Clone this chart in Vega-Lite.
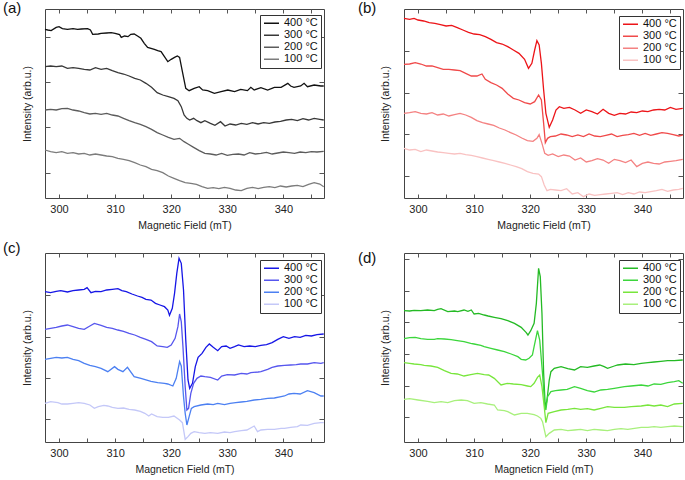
{
"$schema": "https://vega.github.io/schema/vega-lite/v6.json",
"background": "white",
"padding": {"left": 2, "top": 0, "right": 0, "bottom": 0},
"autosize": {"type": "pad"},
"data": {"values": [
{"p":"a","t":400,"x":297.5,"y":506},{"p":"a","t":400,"x":298,"y":504},{"p":"a","t":400,"x":298.6,"y":502},{"p":"a","t":400,"x":299.5,"y":512},{"p":"a","t":400,"x":300,"y":514},{"p":"a","t":400,"x":300.6,"y":508},{"p":"a","t":400,"x":301.5,"y":506},{"p":"a","t":400,"x":302.5,"y":508},{"p":"a","t":400,"x":303.3,"y":506},{"p":"a","t":400,"x":304,"y":507},{"p":"a","t":400,"x":305.1,"y":508},{"p":"a","t":400,"x":305.6,"y":504},{"p":"a","t":400,"x":306,"y":491},{"p":"a","t":400,"x":307,"y":492},{"p":"a","t":400,"x":307.5,"y":494},{"p":"a","t":400,"x":308.5,"y":495},{"p":"a","t":400,"x":309.3,"y":496},{"p":"a","t":400,"x":310,"y":494},{"p":"a","t":400,"x":310.8,"y":490},{"p":"a","t":400,"x":311.1,"y":482},{"p":"a","t":400,"x":311.7,"y":486},{"p":"a","t":400,"x":312.3,"y":484},{"p":"a","t":400,"x":312.8,"y":491},{"p":"a","t":400,"x":313.4,"y":492},{"p":"a","t":400,"x":314,"y":486},{"p":"a","t":400,"x":314.6,"y":479},{"p":"a","t":400,"x":315.2,"y":464},{"p":"a","t":400,"x":315.8,"y":452},{"p":"a","t":400,"x":316.4,"y":449},{"p":"a","t":400,"x":317,"y":446},{"p":"a","t":400,"x":317.6,"y":442},{"p":"a","t":400,"x":318.2,"y":439},{"p":"a","t":400,"x":318.8,"y":424},{"p":"a","t":400,"x":319.4,"y":409},{"p":"a","t":400,"x":320,"y":416},{"p":"a","t":400,"x":320.6,"y":422},{"p":"a","t":400,"x":321.1,"y":426},{"p":"a","t":400,"x":321.5,"y":422},{"p":"a","t":400,"x":322,"y":379},{"p":"a","t":400,"x":322.6,"y":329},{"p":"a","t":400,"x":323.2,"y":322},{"p":"a","t":400,"x":324.1,"y":329},{"p":"a","t":400,"x":325,"y":334},{"p":"a","t":400,"x":325.6,"y":324},{"p":"a","t":400,"x":326.5,"y":322},{"p":"a","t":400,"x":327.7,"y":314},{"p":"a","t":400,"x":328.9,"y":319},{"p":"a","t":400,"x":330.1,"y":324},{"p":"a","t":400,"x":331.3,"y":319},{"p":"a","t":400,"x":332.4,"y":326},{"p":"a","t":400,"x":333.6,"y":322},{"p":"a","t":400,"x":334.2,"y":332},{"p":"a","t":400,"x":334.8,"y":324},{"p":"a","t":400,"x":336,"y":331},{"p":"a","t":400,"x":337.2,"y":324},{"p":"a","t":400,"x":338.4,"y":332},{"p":"a","t":400,"x":339.6,"y":332},{"p":"a","t":400,"x":340.8,"y":344},{"p":"a","t":400,"x":341.3,"y":336},{"p":"a","t":400,"x":341.9,"y":332},{"p":"a","t":400,"x":343.1,"y":336},{"p":"a","t":400,"x":343.7,"y":344},{"p":"a","t":400,"x":344.3,"y":334},{"p":"a","t":400,"x":345.5,"y":339},{"p":"a","t":400,"x":346.7,"y":336},{"p":"a","t":400,"x":347.2,"y":336},
{"p":"a","t":300,"x":297.5,"y":394},{"p":"a","t":300,"x":298.5,"y":396},{"p":"a","t":300,"x":299.5,"y":394},{"p":"a","t":300,"x":300.5,"y":396},{"p":"a","t":300,"x":301.5,"y":389},{"p":"a","t":300,"x":302.5,"y":391},{"p":"a","t":300,"x":303.5,"y":389},{"p":"a","t":300,"x":304.5,"y":386},{"p":"a","t":300,"x":305.5,"y":384},{"p":"a","t":300,"x":306.5,"y":391},{"p":"a","t":300,"x":307.5,"y":386},{"p":"a","t":300,"x":308.5,"y":389},{"p":"a","t":300,"x":309.5,"y":382},{"p":"a","t":300,"x":310.5,"y":376},{"p":"a","t":300,"x":311.5,"y":372},{"p":"a","t":300,"x":312.5,"y":366},{"p":"a","t":300,"x":313.5,"y":359},{"p":"a","t":300,"x":314.5,"y":354},{"p":"a","t":300,"x":315.5,"y":344},{"p":"a","t":300,"x":316.5,"y":332},{"p":"a","t":300,"x":317.5,"y":316},{"p":"a","t":300,"x":318.5,"y":309},{"p":"a","t":300,"x":319.5,"y":304},{"p":"a","t":300,"x":320.5,"y":299},{"p":"a","t":300,"x":321.2,"y":292},{"p":"a","t":300,"x":321.8,"y":274},{"p":"a","t":300,"x":322.3,"y":249},{"p":"a","t":300,"x":322.8,"y":239},{"p":"a","t":300,"x":323.3,"y":234},{"p":"a","t":300,"x":324,"y":239},{"p":"a","t":300,"x":324.6,"y":232},{"p":"a","t":300,"x":325.3,"y":226},{"p":"a","t":300,"x":326,"y":232},{"p":"a","t":300,"x":327,"y":224},{"p":"a","t":300,"x":327.8,"y":218},{"p":"a","t":300,"x":328.8,"y":229},{"p":"a","t":300,"x":329.6,"y":216},{"p":"a","t":300,"x":330.5,"y":222},{"p":"a","t":300,"x":331.5,"y":219},{"p":"a","t":300,"x":332.5,"y":224},{"p":"a","t":300,"x":333.5,"y":221},{"p":"a","t":300,"x":334.5,"y":226},{"p":"a","t":300,"x":335.5,"y":222},{"p":"a","t":300,"x":336.5,"y":226},{"p":"a","t":300,"x":337.5,"y":224},{"p":"a","t":300,"x":338.5,"y":228},{"p":"a","t":300,"x":339.5,"y":230},{"p":"a","t":300,"x":340.5,"y":234},{"p":"a","t":300,"x":341.5,"y":236},{"p":"a","t":300,"x":342.5,"y":232},{"p":"a","t":300,"x":343.5,"y":238},{"p":"a","t":300,"x":344.5,"y":234},{"p":"a","t":300,"x":345.5,"y":239},{"p":"a","t":300,"x":346.5,"y":236},{"p":"a","t":300,"x":347.2,"y":234},
{"p":"a","t":200,"x":297.5,"y":264},{"p":"a","t":200,"x":298.5,"y":266},{"p":"a","t":200,"x":299.5,"y":264},{"p":"a","t":200,"x":300.5,"y":268},{"p":"a","t":200,"x":301.5,"y":269},{"p":"a","t":200,"x":302.5,"y":264},{"p":"a","t":200,"x":303.5,"y":261},{"p":"a","t":200,"x":304.5,"y":256},{"p":"a","t":200,"x":305.5,"y":252},{"p":"a","t":200,"x":306.5,"y":254},{"p":"a","t":200,"x":307.5,"y":251},{"p":"a","t":200,"x":308.5,"y":254},{"p":"a","t":200,"x":309.5,"y":249},{"p":"a","t":200,"x":310.5,"y":246},{"p":"a","t":200,"x":311.5,"y":239},{"p":"a","t":200,"x":312.5,"y":232},{"p":"a","t":200,"x":313.5,"y":226},{"p":"a","t":200,"x":314.5,"y":221},{"p":"a","t":200,"x":315.5,"y":214},{"p":"a","t":200,"x":316.5,"y":206},{"p":"a","t":200,"x":317.5,"y":196},{"p":"a","t":200,"x":318.5,"y":189},{"p":"a","t":200,"x":319.5,"y":182},{"p":"a","t":200,"x":320.5,"y":176},{"p":"a","t":200,"x":321.5,"y":179},{"p":"a","t":200,"x":322.3,"y":169},{"p":"a","t":200,"x":323,"y":162},{"p":"a","t":200,"x":324,"y":152},{"p":"a","t":200,"x":325,"y":142},{"p":"a","t":200,"x":326,"y":134},{"p":"a","t":200,"x":327,"y":132},{"p":"a","t":200,"x":328,"y":129},{"p":"a","t":200,"x":329,"y":134},{"p":"a","t":200,"x":330,"y":128},{"p":"a","t":200,"x":331,"y":131},{"p":"a","t":200,"x":332,"y":132},{"p":"a","t":200,"x":333,"y":129},{"p":"a","t":200,"x":334,"y":136},{"p":"a","t":200,"x":335,"y":132},{"p":"a","t":200,"x":336,"y":134},{"p":"a","t":200,"x":337,"y":137},{"p":"a","t":200,"x":338,"y":132},{"p":"a","t":200,"x":339,"y":135},{"p":"a","t":200,"x":340,"y":138},{"p":"a","t":200,"x":341,"y":136},{"p":"a","t":200,"x":342,"y":134},{"p":"a","t":200,"x":343,"y":138},{"p":"a","t":200,"x":344,"y":136},{"p":"a","t":200,"x":345,"y":139},{"p":"a","t":200,"x":346,"y":138},{"p":"a","t":200,"x":347.2,"y":140},
{"p":"a","t":100,"x":297.5,"y":144},{"p":"a","t":100,"x":298.5,"y":139},{"p":"a","t":100,"x":299.5,"y":136},{"p":"a","t":100,"x":300.5,"y":139},{"p":"a","t":100,"x":301.5,"y":134},{"p":"a","t":100,"x":302.5,"y":136},{"p":"a","t":100,"x":303.5,"y":132},{"p":"a","t":100,"x":304.5,"y":134},{"p":"a","t":100,"x":305.5,"y":129},{"p":"a","t":100,"x":306.5,"y":132},{"p":"a","t":100,"x":307.5,"y":129},{"p":"a","t":100,"x":308.5,"y":126},{"p":"a","t":100,"x":309.5,"y":124},{"p":"a","t":100,"x":310.5,"y":119},{"p":"a","t":100,"x":311.5,"y":116},{"p":"a","t":100,"x":312.5,"y":112},{"p":"a","t":100,"x":313.5,"y":106},{"p":"a","t":100,"x":314.5,"y":99},{"p":"a","t":100,"x":315.5,"y":94},{"p":"a","t":100,"x":316.5,"y":86},{"p":"a","t":100,"x":317.5,"y":82},{"p":"a","t":100,"x":318.5,"y":76},{"p":"a","t":100,"x":319.5,"y":66},{"p":"a","t":100,"x":320.5,"y":59},{"p":"a","t":100,"x":321.5,"y":52},{"p":"a","t":100,"x":322.5,"y":46},{"p":"a","t":100,"x":323.5,"y":44},{"p":"a","t":100,"x":324.5,"y":41},{"p":"a","t":100,"x":325.5,"y":34},{"p":"a","t":100,"x":326.5,"y":29},{"p":"a","t":100,"x":327.5,"y":31},{"p":"a","t":100,"x":328.5,"y":28},{"p":"a","t":100,"x":329.5,"y":32},{"p":"a","t":100,"x":330.5,"y":29},{"p":"a","t":100,"x":331.5,"y":24},{"p":"a","t":100,"x":332.5,"y":22},{"p":"a","t":100,"x":333.5,"y":29},{"p":"a","t":100,"x":334.5,"y":32},{"p":"a","t":100,"x":335.5,"y":28},{"p":"a","t":100,"x":336.5,"y":32},{"p":"a","t":100,"x":337.5,"y":34},{"p":"a","t":100,"x":338.5,"y":31},{"p":"a","t":100,"x":339.5,"y":36},{"p":"a","t":100,"x":340.5,"y":33},{"p":"a","t":100,"x":341.5,"y":36},{"p":"a","t":100,"x":342.5,"y":38},{"p":"a","t":100,"x":343.5,"y":34},{"p":"a","t":100,"x":344.5,"y":41},{"p":"a","t":100,"x":345.5,"y":46},{"p":"a","t":100,"x":346.5,"y":42},{"p":"a","t":100,"x":347.2,"y":34},
{"p":"b","t":400,"x":297.5,"y":539},{"p":"b","t":400,"x":298.5,"y":536},{"p":"b","t":400,"x":299.3,"y":539},{"p":"b","t":400,"x":300,"y":534},{"p":"b","t":400,"x":301,"y":531},{"p":"b","t":400,"x":302,"y":526},{"p":"b","t":400,"x":303,"y":524},{"p":"b","t":400,"x":304,"y":520},{"p":"b","t":400,"x":305,"y":516},{"p":"b","t":400,"x":306,"y":518},{"p":"b","t":400,"x":307,"y":511},{"p":"b","t":400,"x":308,"y":504},{"p":"b","t":400,"x":309,"y":497},{"p":"b","t":400,"x":310,"y":492},{"p":"b","t":400,"x":311,"y":490},{"p":"b","t":400,"x":312,"y":484},{"p":"b","t":400,"x":313,"y":476},{"p":"b","t":400,"x":314,"y":466},{"p":"b","t":400,"x":315,"y":462},{"p":"b","t":400,"x":316,"y":454},{"p":"b","t":400,"x":317,"y":444},{"p":"b","t":400,"x":318,"y":434},{"p":"b","t":400,"x":319,"y":416},{"p":"b","t":400,"x":319.7,"y":389},{"p":"b","t":400,"x":320.3,"y":404},{"p":"b","t":400,"x":320.8,"y":444},{"p":"b","t":400,"x":321.2,"y":472},{"p":"b","t":400,"x":321.6,"y":459},{"p":"b","t":400,"x":322,"y":404},{"p":"b","t":400,"x":322.4,"y":324},{"p":"b","t":400,"x":322.8,"y":254},{"p":"b","t":400,"x":323.4,"y":212},{"p":"b","t":400,"x":324,"y":234},{"p":"b","t":400,"x":324.6,"y":264},{"p":"b","t":400,"x":325.2,"y":274},{"p":"b","t":400,"x":326,"y":269},{"p":"b","t":400,"x":327,"y":272},{"p":"b","t":400,"x":328,"y":264},{"p":"b","t":400,"x":329,"y":254},{"p":"b","t":400,"x":330,"y":264},{"p":"b","t":400,"x":331,"y":259},{"p":"b","t":400,"x":332,"y":252},{"p":"b","t":400,"x":333,"y":266},{"p":"b","t":400,"x":334,"y":254},{"p":"b","t":400,"x":335,"y":248},{"p":"b","t":400,"x":336,"y":254},{"p":"b","t":400,"x":337,"y":252},{"p":"b","t":400,"x":338,"y":258},{"p":"b","t":400,"x":339,"y":256},{"p":"b","t":400,"x":340,"y":261},{"p":"b","t":400,"x":341,"y":259},{"p":"b","t":400,"x":342,"y":264},{"p":"b","t":400,"x":343,"y":266},{"p":"b","t":400,"x":344,"y":264},{"p":"b","t":400,"x":345,"y":272},{"p":"b","t":400,"x":346,"y":266},{"p":"b","t":400,"x":347.2,"y":269},
{"p":"b","t":300,"x":297.5,"y":401},{"p":"b","t":300,"x":298.5,"y":402},{"p":"b","t":300,"x":299.5,"y":406},{"p":"b","t":300,"x":300.5,"y":402},{"p":"b","t":300,"x":301.5,"y":396},{"p":"b","t":300,"x":302.5,"y":396},{"p":"b","t":300,"x":303.5,"y":391},{"p":"b","t":300,"x":304.5,"y":386},{"p":"b","t":300,"x":305.5,"y":386},{"p":"b","t":300,"x":306.5,"y":384},{"p":"b","t":300,"x":307.5,"y":382},{"p":"b","t":300,"x":308.5,"y":374},{"p":"b","t":300,"x":309.5,"y":366},{"p":"b","t":300,"x":310.5,"y":366},{"p":"b","t":300,"x":311.4,"y":372},{"p":"b","t":300,"x":312,"y":356},{"p":"b","t":300,"x":313,"y":346},{"p":"b","t":300,"x":314,"y":339},{"p":"b","t":300,"x":315,"y":329},{"p":"b","t":300,"x":316,"y":312},{"p":"b","t":300,"x":317,"y":299},{"p":"b","t":300,"x":318,"y":294},{"p":"b","t":300,"x":319,"y":286},{"p":"b","t":300,"x":320,"y":282},{"p":"b","t":300,"x":320.8,"y":289},{"p":"b","t":300,"x":321.5,"y":309},{"p":"b","t":300,"x":322,"y":294},{"p":"b","t":300,"x":322.4,"y":224},{"p":"b","t":300,"x":322.7,"y":166},{"p":"b","t":300,"x":323.1,"y":179},{"p":"b","t":300,"x":323.6,"y":184},{"p":"b","t":300,"x":324.5,"y":186},{"p":"b","t":300,"x":325.5,"y":192},{"p":"b","t":300,"x":326.5,"y":189},{"p":"b","t":300,"x":327.5,"y":184},{"p":"b","t":300,"x":328.5,"y":189},{"p":"b","t":300,"x":329.5,"y":184},{"p":"b","t":300,"x":330.5,"y":192},{"p":"b","t":300,"x":331.5,"y":186},{"p":"b","t":300,"x":332.5,"y":184},{"p":"b","t":300,"x":333.5,"y":188},{"p":"b","t":300,"x":334.5,"y":192},{"p":"b","t":300,"x":335.5,"y":184},{"p":"b","t":300,"x":336.5,"y":188},{"p":"b","t":300,"x":337.5,"y":190},{"p":"b","t":300,"x":338.5,"y":194},{"p":"b","t":300,"x":339.5,"y":188},{"p":"b","t":300,"x":340.5,"y":194},{"p":"b","t":300,"x":341.5,"y":188},{"p":"b","t":300,"x":342.5,"y":192},{"p":"b","t":300,"x":343.5,"y":196},{"p":"b","t":300,"x":344.5,"y":194},{"p":"b","t":300,"x":345.5,"y":190},{"p":"b","t":300,"x":346.5,"y":186},{"p":"b","t":300,"x":347.2,"y":189},
{"p":"b","t":200,"x":297.5,"y":254},{"p":"b","t":200,"x":298.5,"y":256},{"p":"b","t":200,"x":299.5,"y":259},{"p":"b","t":200,"x":300.5,"y":254},{"p":"b","t":200,"x":301.5,"y":252},{"p":"b","t":200,"x":302.5,"y":256},{"p":"b","t":200,"x":303.5,"y":249},{"p":"b","t":200,"x":304.5,"y":252},{"p":"b","t":200,"x":305.5,"y":246},{"p":"b","t":200,"x":306.5,"y":250},{"p":"b","t":200,"x":307.5,"y":254},{"p":"b","t":200,"x":308.5,"y":249},{"p":"b","t":200,"x":309.5,"y":242},{"p":"b","t":200,"x":310.5,"y":232},{"p":"b","t":200,"x":311.5,"y":226},{"p":"b","t":200,"x":312.5,"y":222},{"p":"b","t":200,"x":313.5,"y":218},{"p":"b","t":200,"x":314.5,"y":210},{"p":"b","t":200,"x":315.5,"y":204},{"p":"b","t":200,"x":316.5,"y":196},{"p":"b","t":200,"x":317.5,"y":189},{"p":"b","t":200,"x":318.5,"y":180},{"p":"b","t":200,"x":319.5,"y":172},{"p":"b","t":200,"x":320.5,"y":170},{"p":"b","t":200,"x":321.2,"y":179},{"p":"b","t":200,"x":321.6,"y":190},{"p":"b","t":200,"x":322.1,"y":164},{"p":"b","t":200,"x":322.6,"y":134},{"p":"b","t":200,"x":323.2,"y":128},{"p":"b","t":200,"x":324,"y":132},{"p":"b","t":200,"x":325,"y":124},{"p":"b","t":200,"x":326,"y":129},{"p":"b","t":200,"x":327,"y":126},{"p":"b","t":200,"x":328,"y":114},{"p":"b","t":200,"x":329,"y":120},{"p":"b","t":200,"x":330,"y":108},{"p":"b","t":200,"x":331,"y":112},{"p":"b","t":200,"x":332,"y":118},{"p":"b","t":200,"x":333,"y":114},{"p":"b","t":200,"x":334,"y":104},{"p":"b","t":200,"x":335,"y":116},{"p":"b","t":200,"x":336,"y":112},{"p":"b","t":200,"x":337,"y":106},{"p":"b","t":200,"x":338,"y":114},{"p":"b","t":200,"x":339,"y":94},{"p":"b","t":200,"x":340,"y":104},{"p":"b","t":200,"x":341,"y":108},{"p":"b","t":200,"x":342,"y":104},{"p":"b","t":200,"x":343,"y":102},{"p":"b","t":200,"x":344,"y":108},{"p":"b","t":200,"x":345,"y":110},{"p":"b","t":200,"x":346,"y":112},{"p":"b","t":200,"x":347.2,"y":116},
{"p":"b","t":100,"x":297.5,"y":149},{"p":"b","t":100,"x":298.5,"y":144},{"p":"b","t":100,"x":299.5,"y":146},{"p":"b","t":100,"x":300.5,"y":139},{"p":"b","t":100,"x":301.5,"y":144},{"p":"b","t":100,"x":302.5,"y":141},{"p":"b","t":100,"x":303.5,"y":138},{"p":"b","t":100,"x":304.5,"y":136},{"p":"b","t":100,"x":305.5,"y":134},{"p":"b","t":100,"x":306.5,"y":132},{"p":"b","t":100,"x":307.5,"y":134},{"p":"b","t":100,"x":308.5,"y":130},{"p":"b","t":100,"x":309.5,"y":128},{"p":"b","t":100,"x":310.5,"y":124},{"p":"b","t":100,"x":311.5,"y":120},{"p":"b","t":100,"x":312.5,"y":116},{"p":"b","t":100,"x":313.5,"y":112},{"p":"b","t":100,"x":314.5,"y":108},{"p":"b","t":100,"x":315.5,"y":104},{"p":"b","t":100,"x":316.5,"y":99},{"p":"b","t":100,"x":317.5,"y":94},{"p":"b","t":100,"x":318.5,"y":88},{"p":"b","t":100,"x":319.5,"y":79},{"p":"b","t":100,"x":320.5,"y":74},{"p":"b","t":100,"x":321.5,"y":72},{"p":"b","t":100,"x":322,"y":64},{"p":"b","t":100,"x":322.5,"y":39},{"p":"b","t":100,"x":323,"y":22},{"p":"b","t":100,"x":323.6,"y":26},{"p":"b","t":100,"x":324.5,"y":24},{"p":"b","t":100,"x":325.5,"y":22},{"p":"b","t":100,"x":326.5,"y":28},{"p":"b","t":100,"x":327.5,"y":12},{"p":"b","t":100,"x":328.5,"y":16},{"p":"b","t":100,"x":329.5,"y":4},{"p":"b","t":100,"x":330.5,"y":12},{"p":"b","t":100,"x":331.5,"y":8},{"p":"b","t":100,"x":332.5,"y":10},{"p":"b","t":100,"x":333.5,"y":12},{"p":"b","t":100,"x":334.5,"y":14},{"p":"b","t":100,"x":335.5,"y":16},{"p":"b","t":100,"x":336.5,"y":10},{"p":"b","t":100,"x":337.5,"y":16},{"p":"b","t":100,"x":338.5,"y":12},{"p":"b","t":100,"x":339.5,"y":18},{"p":"b","t":100,"x":340.5,"y":16},{"p":"b","t":100,"x":341.5,"y":19},{"p":"b","t":100,"x":342.5,"y":22},{"p":"b","t":100,"x":343.5,"y":26},{"p":"b","t":100,"x":344.5,"y":20},{"p":"b","t":100,"x":345.5,"y":24},{"p":"b","t":100,"x":346.5,"y":26},{"p":"b","t":100,"x":347.2,"y":29},
{"p":"c","t":400,"x":297.5,"y":451},{"p":"c","t":400,"x":298.5,"y":448},{"p":"c","t":400,"x":299.5,"y":452},{"p":"c","t":400,"x":300.3,"y":454},{"p":"c","t":400,"x":301.5,"y":450},{"p":"c","t":400,"x":302.5,"y":454},{"p":"c","t":400,"x":303.5,"y":456},{"p":"c","t":400,"x":304.5,"y":458},{"p":"c","t":400,"x":305,"y":463},{"p":"c","t":400,"x":305.7,"y":448},{"p":"c","t":400,"x":306.5,"y":452},{"p":"c","t":400,"x":307.5,"y":451},{"p":"c","t":400,"x":308.5,"y":456},{"p":"c","t":400,"x":309.5,"y":458},{"p":"c","t":400,"x":310.5,"y":460},{"p":"c","t":400,"x":311.2,"y":454},{"p":"c","t":400,"x":312,"y":451},{"p":"c","t":400,"x":313,"y":444},{"p":"c","t":400,"x":314,"y":438},{"p":"c","t":400,"x":314.8,"y":434},{"p":"c","t":400,"x":315.5,"y":428},{"p":"c","t":400,"x":316.4,"y":426},{"p":"c","t":400,"x":317.2,"y":416},{"p":"c","t":400,"x":318,"y":411},{"p":"c","t":400,"x":318.8,"y":406},{"p":"c","t":400,"x":319.4,"y":396},{"p":"c","t":400,"x":319.7,"y":380},{"p":"c","t":400,"x":320.2,"y":401},{"p":"c","t":400,"x":320.6,"y":446},{"p":"c","t":400,"x":321,"y":506},{"p":"c","t":400,"x":321.4,"y":551},{"p":"c","t":400,"x":321.8,"y":536},{"p":"c","t":400,"x":322.2,"y":456},{"p":"c","t":400,"x":322.6,"y":306},{"p":"c","t":400,"x":323,"y":186},{"p":"c","t":400,"x":323.3,"y":161},{"p":"c","t":400,"x":323.8,"y":176},{"p":"c","t":400,"x":324.3,"y":226},{"p":"c","t":400,"x":324.8,"y":254},{"p":"c","t":400,"x":325.5,"y":266},{"p":"c","t":400,"x":326.2,"y":284},{"p":"c","t":400,"x":326.8,"y":294},{"p":"c","t":400,"x":327.5,"y":284},{"p":"c","t":400,"x":328.3,"y":274},{"p":"c","t":400,"x":329,"y":286},{"p":"c","t":400,"x":329.8,"y":288},{"p":"c","t":400,"x":330.5,"y":281},{"p":"c","t":400,"x":331.3,"y":286},{"p":"c","t":400,"x":332,"y":291},{"p":"c","t":400,"x":333,"y":286},{"p":"c","t":400,"x":334,"y":288},{"p":"c","t":400,"x":335,"y":286},{"p":"c","t":400,"x":336,"y":290},{"p":"c","t":400,"x":337,"y":292},{"p":"c","t":400,"x":338,"y":298},{"p":"c","t":400,"x":339,"y":308},{"p":"c","t":400,"x":340,"y":316},{"p":"c","t":400,"x":341,"y":311},{"p":"c","t":400,"x":342,"y":316},{"p":"c","t":400,"x":343,"y":314},{"p":"c","t":400,"x":344,"y":320},{"p":"c","t":400,"x":345,"y":318},{"p":"c","t":400,"x":346,"y":322},{"p":"c","t":400,"x":347.2,"y":324},
{"p":"c","t":300,"x":297.5,"y":338},{"p":"c","t":300,"x":298.5,"y":341},{"p":"c","t":300,"x":299.5,"y":344},{"p":"c","t":300,"x":300.5,"y":348},{"p":"c","t":300,"x":301.5,"y":351},{"p":"c","t":300,"x":302.5,"y":346},{"p":"c","t":300,"x":303.5,"y":341},{"p":"c","t":300,"x":304.5,"y":338},{"p":"c","t":300,"x":305.5,"y":348},{"p":"c","t":300,"x":306.3,"y":356},{"p":"c","t":300,"x":307.5,"y":350},{"p":"c","t":300,"x":308.5,"y":344},{"p":"c","t":300,"x":309.5,"y":341},{"p":"c","t":300,"x":310.5,"y":336},{"p":"c","t":300,"x":311.5,"y":332},{"p":"c","t":300,"x":312.5,"y":326},{"p":"c","t":300,"x":313.5,"y":321},{"p":"c","t":300,"x":314.5,"y":314},{"p":"c","t":300,"x":315.5,"y":308},{"p":"c","t":300,"x":316.5,"y":301},{"p":"c","t":300,"x":317.5,"y":288},{"p":"c","t":300,"x":318.5,"y":286},{"p":"c","t":300,"x":319.3,"y":284},{"p":"c","t":300,"x":320,"y":291},{"p":"c","t":300,"x":320.7,"y":311},{"p":"c","t":300,"x":321.2,"y":346},{"p":"c","t":300,"x":321.5,"y":384},{"p":"c","t":300,"x":321.8,"y":361},{"p":"c","t":300,"x":322.1,"y":286},{"p":"c","t":300,"x":322.5,"y":166},{"p":"c","t":300,"x":322.8,"y":96},{"p":"c","t":300,"x":323.1,"y":101},{"p":"c","t":300,"x":323.5,"y":146},{"p":"c","t":300,"x":324,"y":176},{"p":"c","t":300,"x":324.6,"y":191},{"p":"c","t":300,"x":325.3,"y":198},{"p":"c","t":300,"x":326,"y":196},{"p":"c","t":300,"x":327,"y":194},{"p":"c","t":300,"x":328.3,"y":186},{"p":"c","t":300,"x":329,"y":198},{"p":"c","t":300,"x":330,"y":202},{"p":"c","t":300,"x":331.3,"y":201},{"p":"c","t":300,"x":332.5,"y":206},{"p":"c","t":300,"x":333.5,"y":204},{"p":"c","t":300,"x":334.2,"y":208},{"p":"c","t":300,"x":335.5,"y":210},{"p":"c","t":300,"x":336,"y":211},{"p":"c","t":300,"x":337.2,"y":218},{"p":"c","t":300,"x":338,"y":224},{"p":"c","t":300,"x":339,"y":228},{"p":"c","t":300,"x":340.2,"y":230},{"p":"c","t":300,"x":341.3,"y":231},{"p":"c","t":300,"x":342.3,"y":232},{"p":"c","t":300,"x":343.1,"y":234},{"p":"c","t":300,"x":344.3,"y":234},{"p":"c","t":300,"x":345.5,"y":238},{"p":"c","t":300,"x":346.7,"y":236},{"p":"c","t":300,"x":347.2,"y":238},
{"p":"c","t":200,"x":297.5,"y":248},{"p":"c","t":200,"x":298.5,"y":251},{"p":"c","t":200,"x":299.5,"y":254},{"p":"c","t":200,"x":300.5,"y":252},{"p":"c","t":200,"x":301.5,"y":254},{"p":"c","t":200,"x":302.5,"y":248},{"p":"c","t":200,"x":303.5,"y":244},{"p":"c","t":200,"x":304.5,"y":236},{"p":"c","t":200,"x":305.5,"y":230},{"p":"c","t":200,"x":306.5,"y":226},{"p":"c","t":200,"x":307.5,"y":221},{"p":"c","t":200,"x":308.7,"y":211},{"p":"c","t":200,"x":309.9,"y":226},{"p":"c","t":200,"x":310.5,"y":218},{"p":"c","t":200,"x":311.4,"y":211},{"p":"c","t":200,"x":312.2,"y":224},{"p":"c","t":200,"x":313.4,"y":196},{"p":"c","t":200,"x":314.6,"y":191},{"p":"c","t":200,"x":315.2,"y":188},{"p":"c","t":200,"x":316.4,"y":182},{"p":"c","t":200,"x":317.6,"y":178},{"p":"c","t":200,"x":318.8,"y":176},{"p":"c","t":200,"x":319.4,"y":174},{"p":"c","t":200,"x":320.3,"y":168},{"p":"c","t":200,"x":320.9,"y":191},{"p":"c","t":200,"x":321.5,"y":241},{"p":"c","t":200,"x":321.8,"y":228},{"p":"c","t":200,"x":322.2,"y":136},{"p":"c","t":200,"x":322.5,"y":86},{"p":"c","t":200,"x":322.8,"y":51},{"p":"c","t":200,"x":323.2,"y":76},{"p":"c","t":200,"x":323.6,"y":101},{"p":"c","t":200,"x":324.1,"y":106},{"p":"c","t":200,"x":325.3,"y":111},{"p":"c","t":200,"x":326.5,"y":114},{"p":"c","t":200,"x":327.5,"y":112},{"p":"c","t":200,"x":328.3,"y":116},{"p":"c","t":200,"x":329.5,"y":112},{"p":"c","t":200,"x":330.5,"y":116},{"p":"c","t":200,"x":331.5,"y":118},{"p":"c","t":200,"x":332.5,"y":120},{"p":"c","t":200,"x":333.5,"y":122},{"p":"c","t":200,"x":334.8,"y":126},{"p":"c","t":200,"x":336,"y":128},{"p":"c","t":200,"x":337.2,"y":131},{"p":"c","t":200,"x":338.4,"y":132},{"p":"c","t":200,"x":339.6,"y":136},{"p":"c","t":200,"x":340.2,"y":138},{"p":"c","t":200,"x":341,"y":144},{"p":"c","t":200,"x":341.9,"y":146},{"p":"c","t":200,"x":343,"y":144},{"p":"c","t":200,"x":344.3,"y":154},{"p":"c","t":200,"x":345.5,"y":148},{"p":"c","t":200,"x":346.7,"y":138},{"p":"c","t":200,"x":347.2,"y":138},
{"p":"c","t":100,"x":297.5,"y":116},{"p":"c","t":100,"x":298.5,"y":121},{"p":"c","t":100,"x":299.8,"y":118},{"p":"c","t":100,"x":300.5,"y":114},{"p":"c","t":100,"x":301.5,"y":114},{"p":"c","t":100,"x":302.5,"y":116},{"p":"c","t":100,"x":303.5,"y":118},{"p":"c","t":100,"x":304.5,"y":116},{"p":"c","t":100,"x":305.5,"y":111},{"p":"c","t":100,"x":306.3,"y":101},{"p":"c","t":100,"x":307,"y":106},{"p":"c","t":100,"x":308,"y":110},{"p":"c","t":100,"x":308.7,"y":108},{"p":"c","t":100,"x":309.5,"y":104},{"p":"c","t":100,"x":310.5,"y":101},{"p":"c","t":100,"x":311.5,"y":102},{"p":"c","t":100,"x":312.5,"y":98},{"p":"c","t":100,"x":313.5,"y":96},{"p":"c","t":100,"x":314.5,"y":92},{"p":"c","t":100,"x":315.3,"y":86},{"p":"c","t":100,"x":316,"y":78},{"p":"c","t":100,"x":316.5,"y":84},{"p":"c","t":100,"x":317.5,"y":76},{"p":"c","t":100,"x":318.5,"y":74},{"p":"c","t":100,"x":319.5,"y":74},{"p":"c","t":100,"x":320.5,"y":78},{"p":"c","t":100,"x":321.5,"y":66},{"p":"c","t":100,"x":322,"y":58},{"p":"c","t":100,"x":322.5,"y":8},{"p":"c","t":100,"x":323,"y":16},{"p":"c","t":100,"x":323.5,"y":26},{"p":"c","t":100,"x":324.1,"y":31},{"p":"c","t":100,"x":325,"y":28},{"p":"c","t":100,"x":326,"y":26},{"p":"c","t":100,"x":327,"y":28},{"p":"c","t":100,"x":328.3,"y":26},{"p":"c","t":100,"x":329.5,"y":30},{"p":"c","t":100,"x":330.5,"y":28},{"p":"c","t":100,"x":331.3,"y":31},{"p":"c","t":100,"x":332.5,"y":34},{"p":"c","t":100,"x":333.5,"y":36},{"p":"c","t":100,"x":334.8,"y":48},{"p":"c","t":100,"x":335.4,"y":31},{"p":"c","t":100,"x":336,"y":36},{"p":"c","t":100,"x":337.2,"y":38},{"p":"c","t":100,"x":338.4,"y":38},{"p":"c","t":100,"x":339.6,"y":41},{"p":"c","t":100,"x":340.2,"y":41},{"p":"c","t":100,"x":341.3,"y":44},{"p":"c","t":100,"x":342.5,"y":46},{"p":"c","t":100,"x":343.1,"y":51},{"p":"c","t":100,"x":344.3,"y":50},{"p":"c","t":100,"x":345.5,"y":56},{"p":"c","t":100,"x":346.7,"y":58},{"p":"c","t":100,"x":347.2,"y":58},
{"p":"d","t":400,"x":297.5,"y":394},{"p":"d","t":400,"x":298.5,"y":393},{"p":"d","t":400,"x":299.3,"y":395},{"p":"d","t":400,"x":300.5,"y":394},{"p":"d","t":400,"x":301.7,"y":396},{"p":"d","t":400,"x":302.9,"y":394},{"p":"d","t":400,"x":303.5,"y":398},{"p":"d","t":400,"x":304.1,"y":400},{"p":"d","t":400,"x":305.3,"y":391},{"p":"d","t":400,"x":306.5,"y":393},{"p":"d","t":400,"x":307.1,"y":391},{"p":"d","t":400,"x":308.2,"y":396},{"p":"d","t":400,"x":308.9,"y":392},{"p":"d","t":400,"x":309.5,"y":396},{"p":"d","t":400,"x":310,"y":384},{"p":"d","t":400,"x":310.8,"y":386},{"p":"d","t":400,"x":311.8,"y":381},{"p":"d","t":400,"x":312.5,"y":378},{"p":"d","t":400,"x":313.6,"y":374},{"p":"d","t":400,"x":314.8,"y":370},{"p":"d","t":400,"x":316,"y":364},{"p":"d","t":400,"x":317.2,"y":356},{"p":"d","t":400,"x":318.4,"y":344},{"p":"d","t":400,"x":319.3,"y":328},{"p":"d","t":400,"x":319.6,"y":321},{"p":"d","t":400,"x":320.1,"y":334},{"p":"d","t":400,"x":320.7,"y":356},{"p":"d","t":400,"x":321.1,"y":416},{"p":"d","t":400,"x":321.5,"y":521},{"p":"d","t":400,"x":321.8,"y":496},{"p":"d","t":400,"x":322.1,"y":386},{"p":"d","t":400,"x":322.4,"y":206},{"p":"d","t":400,"x":322.7,"y":101},{"p":"d","t":400,"x":323,"y":126},{"p":"d","t":400,"x":323.4,"y":186},{"p":"d","t":400,"x":323.7,"y":211},{"p":"d","t":400,"x":324.3,"y":221},{"p":"d","t":400,"x":325.5,"y":226},{"p":"d","t":400,"x":326.7,"y":220},{"p":"d","t":400,"x":327.9,"y":216},{"p":"d","t":400,"x":329,"y":226},{"p":"d","t":400,"x":330.2,"y":224},{"p":"d","t":400,"x":331.4,"y":228},{"p":"d","t":400,"x":332.4,"y":231},{"p":"d","t":400,"x":333.2,"y":226},{"p":"d","t":400,"x":333.8,"y":221},{"p":"d","t":400,"x":335,"y":228},{"p":"d","t":400,"x":335.6,"y":231},{"p":"d","t":400,"x":337,"y":234},{"p":"d","t":400,"x":338.5,"y":232},{"p":"d","t":400,"x":339.8,"y":236},{"p":"d","t":400,"x":341,"y":238},{"p":"d","t":400,"x":342.1,"y":240},{"p":"d","t":400,"x":343.3,"y":242},{"p":"d","t":400,"x":344.5,"y":244},{"p":"d","t":400,"x":345.7,"y":244},{"p":"d","t":400,"x":347.2,"y":246},
{"p":"d","t":300,"x":297.5,"y":310},{"p":"d","t":300,"x":298.5,"y":313},{"p":"d","t":300,"x":299.5,"y":314},{"p":"d","t":300,"x":300.5,"y":310},{"p":"d","t":300,"x":301.7,"y":308},{"p":"d","t":300,"x":302.9,"y":308},{"p":"d","t":300,"x":303.5,"y":310},{"p":"d","t":300,"x":304.7,"y":309},{"p":"d","t":300,"x":305.9,"y":307},{"p":"d","t":300,"x":307,"y":304},{"p":"d","t":300,"x":308.2,"y":301},{"p":"d","t":300,"x":309.4,"y":296},{"p":"d","t":300,"x":310,"y":294},{"p":"d","t":300,"x":311.2,"y":290},{"p":"d","t":300,"x":311.8,"y":286},{"p":"d","t":300,"x":313,"y":281},{"p":"d","t":300,"x":314.2,"y":276},{"p":"d","t":300,"x":315.4,"y":271},{"p":"d","t":300,"x":316.6,"y":264},{"p":"d","t":300,"x":317.8,"y":256},{"p":"d","t":300,"x":318.4,"y":248},{"p":"d","t":300,"x":319.2,"y":246},{"p":"d","t":300,"x":319.8,"y":251},{"p":"d","t":300,"x":320.4,"y":261},{"p":"d","t":300,"x":320.7,"y":286},{"p":"d","t":300,"x":321.3,"y":334},{"p":"d","t":300,"x":321.7,"y":306},{"p":"d","t":300,"x":322.2,"y":206},{"p":"d","t":300,"x":322.6,"y":111},{"p":"d","t":300,"x":322.8,"y":96},{"p":"d","t":300,"x":323.1,"y":136},{"p":"d","t":300,"x":323.7,"y":151},{"p":"d","t":300,"x":324.5,"y":154},{"p":"d","t":300,"x":325.5,"y":156},{"p":"d","t":300,"x":326.6,"y":158},{"p":"d","t":300,"x":327.9,"y":166},{"p":"d","t":300,"x":329,"y":161},{"p":"d","t":300,"x":330.2,"y":154},{"p":"d","t":300,"x":331.4,"y":150},{"p":"d","t":300,"x":332.6,"y":156},{"p":"d","t":300,"x":333.8,"y":158},{"p":"d","t":300,"x":335,"y":161},{"p":"d","t":300,"x":336.8,"y":166},{"p":"d","t":300,"x":338,"y":168},{"p":"d","t":300,"x":339.8,"y":171},{"p":"d","t":300,"x":341,"y":168},{"p":"d","t":300,"x":342.1,"y":174},{"p":"d","t":300,"x":343.3,"y":173},{"p":"d","t":300,"x":344.5,"y":178},{"p":"d","t":300,"x":345.7,"y":181},{"p":"d","t":300,"x":346.5,"y":184},{"p":"d","t":300,"x":347.2,"y":176},
{"p":"d","t":200,"x":297.5,"y":238},{"p":"d","t":200,"x":298.5,"y":236},{"p":"d","t":200,"x":299.3,"y":234},{"p":"d","t":200,"x":300.5,"y":232},{"p":"d","t":200,"x":301.1,"y":230},{"p":"d","t":200,"x":302.3,"y":228},{"p":"d","t":200,"x":303.5,"y":224},{"p":"d","t":200,"x":304.7,"y":214},{"p":"d","t":200,"x":305.9,"y":206},{"p":"d","t":200,"x":307,"y":204},{"p":"d","t":200,"x":308.2,"y":198},{"p":"d","t":200,"x":309.4,"y":202},{"p":"d","t":200,"x":310.6,"y":206},{"p":"d","t":200,"x":311.8,"y":202},{"p":"d","t":200,"x":312.6,"y":201},{"p":"d","t":200,"x":313.6,"y":191},{"p":"d","t":200,"x":314.8,"y":171},{"p":"d","t":200,"x":315.9,"y":176},{"p":"d","t":200,"x":317,"y":174},{"p":"d","t":200,"x":318.4,"y":172},{"p":"d","t":200,"x":319.5,"y":168},{"p":"d","t":200,"x":320.1,"y":166},{"p":"d","t":200,"x":320.7,"y":176},{"p":"d","t":200,"x":321.3,"y":194},{"p":"d","t":200,"x":321.7,"y":201},{"p":"d","t":200,"x":322.1,"y":166},{"p":"d","t":200,"x":322.5,"y":106},{"p":"d","t":200,"x":322.8,"y":58},{"p":"d","t":200,"x":323.2,"y":86},{"p":"d","t":200,"x":324.3,"y":91},{"p":"d","t":200,"x":325.5,"y":96},{"p":"d","t":200,"x":326.7,"y":98},{"p":"d","t":200,"x":327.9,"y":101},{"p":"d","t":200,"x":329,"y":98},{"p":"d","t":200,"x":330.2,"y":100},{"p":"d","t":200,"x":331.4,"y":96},{"p":"d","t":200,"x":332.6,"y":101},{"p":"d","t":200,"x":333.8,"y":106},{"p":"d","t":200,"x":335,"y":104},{"p":"d","t":200,"x":336.8,"y":104},{"p":"d","t":200,"x":338,"y":106},{"p":"d","t":200,"x":339.8,"y":108},{"p":"d","t":200,"x":341,"y":111},{"p":"d","t":200,"x":342.1,"y":108},{"p":"d","t":200,"x":343.3,"y":111},{"p":"d","t":200,"x":344.5,"y":106},{"p":"d","t":200,"x":345.7,"y":114},{"p":"d","t":200,"x":347.2,"y":116},
{"p":"d","t":100,"x":297.5,"y":128},{"p":"d","t":100,"x":298.5,"y":130},{"p":"d","t":100,"x":300,"y":126},{"p":"d","t":100,"x":301.7,"y":122},{"p":"d","t":100,"x":302.9,"y":118},{"p":"d","t":100,"x":304.1,"y":121},{"p":"d","t":100,"x":305.3,"y":118},{"p":"d","t":100,"x":306.5,"y":124},{"p":"d","t":100,"x":307.7,"y":126},{"p":"d","t":100,"x":308.8,"y":124},{"p":"d","t":100,"x":310,"y":116},{"p":"d","t":100,"x":311.2,"y":118},{"p":"d","t":100,"x":312.4,"y":114},{"p":"d","t":100,"x":313.6,"y":111},{"p":"d","t":100,"x":314.2,"y":96},{"p":"d","t":100,"x":315.4,"y":94},{"p":"d","t":100,"x":316,"y":91},{"p":"d","t":100,"x":316.6,"y":86},{"p":"d","t":100,"x":317.2,"y":81},{"p":"d","t":100,"x":318.4,"y":86},{"p":"d","t":100,"x":319.5,"y":86},{"p":"d","t":100,"x":320.7,"y":82},{"p":"d","t":100,"x":321.3,"y":78},{"p":"d","t":100,"x":321.9,"y":71},{"p":"d","t":100,"x":322.2,"y":61},{"p":"d","t":100,"x":322.6,"y":31},{"p":"d","t":100,"x":322.8,"y":16},{"p":"d","t":100,"x":323.1,"y":21},{"p":"d","t":100,"x":323.4,"y":26},{"p":"d","t":100,"x":324.3,"y":36},{"p":"d","t":100,"x":325.5,"y":38},{"p":"d","t":100,"x":326.7,"y":34},{"p":"d","t":100,"x":327.9,"y":36},{"p":"d","t":100,"x":329,"y":38},{"p":"d","t":100,"x":330.2,"y":34},{"p":"d","t":100,"x":331.4,"y":38},{"p":"d","t":100,"x":332.6,"y":36},{"p":"d","t":100,"x":333.8,"y":34},{"p":"d","t":100,"x":335,"y":38},{"p":"d","t":100,"x":336.2,"y":40},{"p":"d","t":100,"x":337.4,"y":38},{"p":"d","t":100,"x":338.6,"y":41},{"p":"d","t":100,"x":339.8,"y":44},{"p":"d","t":100,"x":341,"y":44},{"p":"d","t":100,"x":342.1,"y":46},{"p":"d","t":100,"x":343.3,"y":44},{"p":"d","t":100,"x":344.5,"y":46},{"p":"d","t":100,"x":345.7,"y":48},{"p":"d","t":100,"x":347.2,"y":46}
]},
"columns": 2,
"spacing": {"row": 55, "column": 80},
"bounds": "flush",
"resolve": {"scale": {"color": "independent"}, "legend": {"color": "independent"}},
"concat": [
{"width": 279, "height": 189,
 "title": {"text": "(a)", "dx": -42, "dy": 11},
 "transform": [{"filter": "datum.p == 'a'"}],
 "layer": [
  {"mark": {"type": "line", "strokeWidth": 1.3},
   "encoding": {
    "x": {"field": "x", "type": "quantitative", "scale": {"domain": [297.5, 347.25], "nice": false, "zero": false}, "axis": {"orient": "bottom", "values": [300,305,310,315,320,325,330,335,340,345], "tickSize": -4, "labelExpr": "datum.value % 10 == 0 ? datum.label : ''", "labelPadding": 9, "labelFlush": false, "title": "Magnetic Field (mT)", "titlePadding": 6}},
    "y": {"field": "y", "type": "quantitative", "scale": {"domain": [0, 567], "nice": false, "zero": false}, "axis": {"orient": "left", "values": [76,212,349,484], "tickSize": -5, "labels": false, "title": "Intensity (arb.u.)", "titlePadding": 12}},
    "color": {"field": "t", "type": "nominal", "sort": [400,300,200,100], "scale": {"domain": [400,300,200,100], "range": ["#111111","#383838","#5c5c5c","#7c7c7c"]}, "legend": {"orient": "none", "legendX": 215, "legendY": 6, "title": null, "labelExpr": "datum.label + ' °C'"}}
   }},
  {"mark": {"type": "line", "opacity": 0},
   "encoding": {
    "x": {"field": "x", "type": "quantitative", "axis": {"orient": "top", "values": [300,305,310,315,320,325,330,335,340,345], "tickSize": -4, "labels": false, "title": null}},
    "y": {"field": "y", "type": "quantitative", "axis": {"orient": "right", "values": [76,212,349,484], "tickSize": -5, "labels": false, "title": null}}
   }}
 ],
 "resolve": {"axis": {"x": "independent", "y": "independent"}}
},
{"width": 279, "height": 189,
 "title": {"text": "(b)", "dx": -46, "dy": 11},
 "transform": [{"filter": "datum.p == 'b'"}],
 "layer": [
  {"mark": {"type": "line", "strokeWidth": 1.3},
   "encoding": {
    "x": {"field": "x", "type": "quantitative", "scale": {"domain": [297.5, 347.25], "nice": false, "zero": false}, "axis": {"orient": "bottom", "values": [300,305,310,315,320,325,330,335,340,345], "tickSize": -4, "labelExpr": "datum.value % 10 == 0 ? datum.label : ''", "labelPadding": 9, "labelFlush": false, "title": "Magnetic Field (mT)", "titlePadding": 6}},
    "y": {"field": "y", "type": "quantitative", "scale": {"domain": [0, 567], "nice": false, "zero": false}, "axis": {"orient": "left", "values": [67,191,316,441], "tickSize": -5, "labels": false, "title": "Intensity (arb.u.)", "titlePadding": 13}},
    "color": {"field": "t", "type": "nominal", "sort": [400,300,200,100], "scale": {"domain": [400,300,200,100], "range": ["#ec1418","#f04a4a","#f48282","#f9c2c2"]}, "legend": {"orient": "none", "legendX": 215, "legendY": 7, "title": null, "labelExpr": "datum.label + ' °C'"}}
   }},
  {"mark": {"type": "line", "opacity": 0},
   "encoding": {
    "x": {"field": "x", "type": "quantitative", "axis": {"orient": "top", "values": [300,305,310,315,320,325,330,335,340,345], "tickSize": -4, "labels": false, "title": null}},
    "y": {"field": "y", "type": "quantitative", "axis": {"orient": "right", "values": [67,191,316,441], "tickSize": -5, "labels": false, "title": null}}
   }}
 ],
 "resolve": {"axis": {"x": "independent", "y": "independent"}}
},
{"width": 279, "height": 189,
 "title": {"text": "(c)", "dx": -42, "dy": 7},
 "transform": [{"filter": "datum.p == 'c'"}],
 "layer": [
  {"mark": {"type": "line", "strokeWidth": 1.3},
   "encoding": {
    "x": {"field": "x", "type": "quantitative", "scale": {"domain": [297.5, 347.25], "nice": false, "zero": false}, "axis": {"orient": "bottom", "values": [300,305,310,315,320,325,330,335,340,345], "tickSize": -4, "labelExpr": "datum.value % 10 == 0 ? datum.label : ''", "labelPadding": 9, "labelFlush": false, "title": "Magneticn Field (mT)", "titlePadding": 6}},
    "y": {"field": "y", "type": "quantitative", "scale": {"domain": [0, 567], "nice": false, "zero": false}, "axis": {"orient": "left", "values": [68,193,316,441], "tickSize": -5, "labels": false, "title": "Intensity (arb.u.)", "titlePadding": 12}},
    "color": {"field": "t", "type": "nominal", "sort": [400,300,200,100], "scale": {"domain": [400,300,200,100], "range": ["#1616e6","#5656ee","#4c80f2","#c4c8f8"]}, "legend": {"orient": "none", "legendX": 215, "legendY": 7, "title": null, "labelExpr": "datum.label + ' °C'"}}
   }},
  {"mark": {"type": "line", "opacity": 0},
   "encoding": {
    "x": {"field": "x", "type": "quantitative", "axis": {"orient": "top", "values": [300,305,310,315,320,325,330,335,340,345], "tickSize": -4, "labels": false, "title": null}},
    "y": {"field": "y", "type": "quantitative", "axis": {"orient": "right", "values": [68,193,316,441], "tickSize": -5, "labels": false, "title": null}}
   }}
 ],
 "resolve": {"axis": {"x": "independent", "y": "independent"}}
},
{"width": 279, "height": 189,
 "title": {"text": "(d)", "dx": -46, "dy": 17},
 "transform": [{"filter": "datum.p == 'd'"}],
 "layer": [
  {"mark": {"type": "line", "strokeWidth": 1.3},
   "encoding": {
    "x": {"field": "x", "type": "quantitative", "scale": {"domain": [297.5, 347.25], "nice": false, "zero": false}, "axis": {"orient": "bottom", "values": [300,305,310,315,320,325,330,335,340,345], "tickSize": -4, "labelExpr": "datum.value % 10 == 0 ? datum.label : ''", "labelPadding": 9, "labelFlush": false, "title": "Magneticn Field (mT)", "titlePadding": 6}},
    "y": {"field": "y", "type": "quantitative", "scale": {"domain": [0, 567], "nice": false, "zero": false}, "axis": {"orient": "left", "values": [74,169,264,360,453,549], "tickSize": -5, "labels": false, "title": "Intensity (arb.u.)", "titlePadding": 13}},
    "color": {"field": "t", "type": "nominal", "sort": [400,300,200,100], "scale": {"domain": [400,300,200,100], "range": ["#24ba24","#3cd63c","#78e63c","#a8f07c"]}, "legend": {"orient": "none", "legendX": 215, "legendY": 7, "title": null, "labelExpr": "datum.label + ' °C'"}}
   }},
  {"mark": {"type": "line", "opacity": 0},
   "encoding": {
    "x": {"field": "x", "type": "quantitative", "axis": {"orient": "top", "values": [300,305,310,315,320,325,330,335,340,345], "tickSize": -4, "labels": false, "title": null}},
    "y": {"field": "y", "type": "quantitative", "axis": {"orient": "right", "values": [74,169,264,360,453,549], "tickSize": -5, "labels": false, "title": null}}
   }}
 ],
 "resolve": {"axis": {"x": "independent", "y": "independent"}}
}
],
"config": {
 "view": {"stroke": "#444444", "strokeWidth": 1},
 "font": "Liberation Sans",
 "axis": {"domain": false, "grid": false, "tickColor": "#555555", "tickWidth": 1, "labelFont": "Liberation Sans", "labelFontSize": 11, "labelColor": "#222222", "titleFont": "Liberation Sans", "titleFontSize": 10.5, "titleFontWeight": "normal", "titleColor": "#222222"},
 "legend": {"symbolType": "stroke", "symbolSize": 225, "symbolStrokeWidth": 1.3, "labelFont": "Liberation Sans", "labelFontSize": 11, "labelColor": "#111111", "padding": 3, "rowPadding": 0, "clipHeight": 10.5, "strokeColor": "#333333", "fillColor": "white", "labelOffset": 4, "symbolOffset": 0},
 "title": {"font": "Liberation Sans", "fontSize": 15, "fontWeight": "normal", "anchor": "start", "frame": "group", "offset": 0, "baseline": "alphabetic", "color": "#111111"}
}
}
